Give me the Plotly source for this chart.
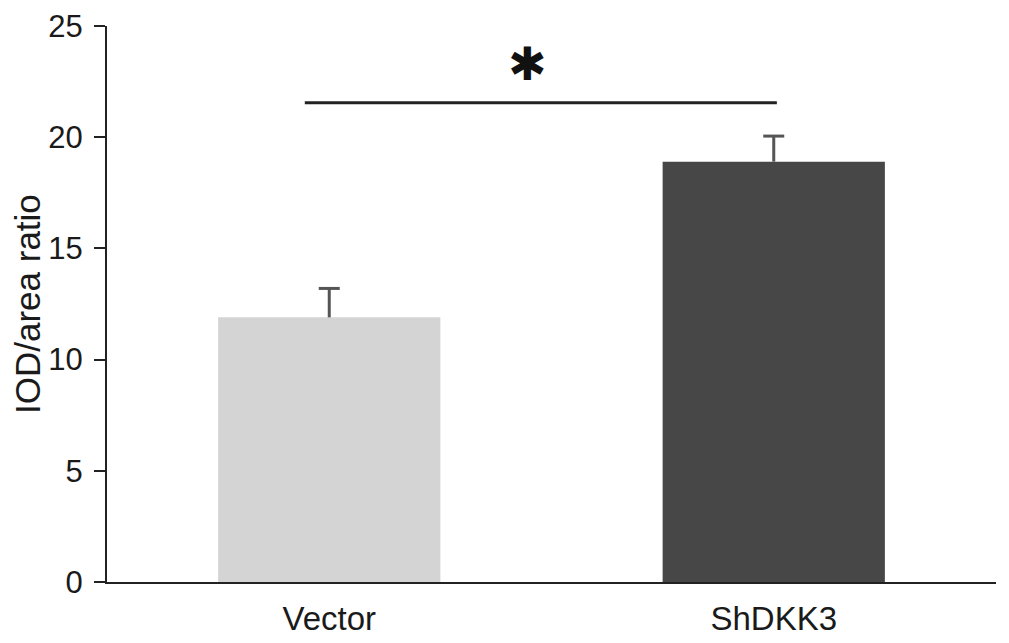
import plotly.graph_objects as go

# --- Data ---
categories = ["Vector", "ShDKK3"]
iod_ratio = [11.9, 18.9]
iod_error = [1.3, 1.15]
bar_colors = ["#d4d4d4", "#474747"]

y_ticks = [0, 5, 10, 15, 20, 25]
y_title = "IOD/area ratio"
sig_level = 21.55
sig_label = "✱"

FONT = "Liberation Sans, Arial, sans-serif"
AXIS_COLOR = "#222222"
ERR_COLOR = "#555555"

fig = go.Figure()

fig.add_trace(go.Bar(
    x=categories,
    y=iod_ratio,
    width=0.5,
    marker=dict(color=bar_colors, line=dict(width=0)),
    showlegend=False,
    hoverinfo="x+y",
))

# upper-only error bars drawn as "T": stem from the cap down to the bar top
err_top = [v + e for v, e in zip(iod_ratio, iod_error)]
fig.add_trace(go.Scatter(
    x=categories,
    y=err_top,
    mode="markers",
    marker=dict(symbol="line-ew-open", size=15, color=ERR_COLOR,
                line=dict(color=ERR_COLOR, width=3)),
    error_y=dict(
        type="data",
        symmetric=False,
        array=[0] * len(iod_error),
        arrayminus=iod_error,
        color=ERR_COLOR,
        thickness=3,
        width=0,
    ),
    showlegend=False,
    hoverinfo="skip",
))

# significance bracket between the two groups
fig.add_shape(
    type="line", xref="x", yref="y",
    x0=-0.055, x1=1.007, y0=sig_level, y1=sig_level,
    line=dict(color=AXIS_COLOR, width=3),
)
fig.add_annotation(
    x=0.445, y=sig_level + 1.72, xref="x", yref="y",
    text=sig_label, showarrow=False, yanchor="middle",
    font=dict(family="DejaVu Sans", size=46, color="#111111"),
)

# y axis title as a rotated annotation for exact placement
fig.add_annotation(
    x=0, y=0.5, xref="paper", yref="paper",
    text=y_title, textangle=-90, showarrow=False,
    xanchor="center", yanchor="middle", xshift=-80,
    font=dict(size=35),
)

fig.update_layout(
    width=1009,
    height=643,
    margin=dict(l=99, r=21, t=18, b=69),
    plot_bgcolor="white",
    paper_bgcolor="white",
    font=dict(family=FONT, size=31, color="#1a1a1a"),
    xaxis=dict(
        range=[-0.5, 1.5],
        showline=True,
        linecolor=AXIS_COLOR,
        linewidth=2,
        ticks="",
        showgrid=False,
        zeroline=False,
        tickfont=dict(size=33),
        ticklabelstandoff=6,
        automargin=False,
    ),
    yaxis=dict(
        range=[0, 25],
        tickvals=y_ticks,
        showline=True,
        linecolor=AXIS_COLOR,
        linewidth=2,
        ticks="outside",
        ticklen=11,
        tickwidth=2,
        tickcolor=AXIS_COLOR,
        showgrid=False,
        zeroline=False,
        tickfont=dict(size=31),
        ticklabelstandoff=5,
        automargin=False,
    ),
)

fig.write_html("out.html")
